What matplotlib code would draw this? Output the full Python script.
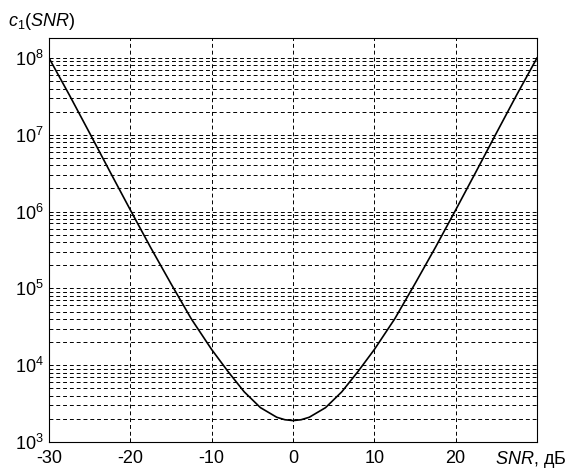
import numpy as np
import matplotlib
matplotlib.use('Agg')
import matplotlib.pyplot as plt
from matplotlib.ticker import LogLocator, NullFormatter

plt.rcParams['font.family'] = ['Liberation Sans', 'DejaVu Sans']
plt.rcParams['mathtext.fontset'] = 'custom'
plt.rcParams['mathtext.rm'] = 'Liberation Sans'
plt.rcParams['mathtext.it'] = 'Liberation Sans:italic'

# values
snr_db = [-30, -27.5, -25, -22.5, -20, -17.5, -15, -12.5, -10, -8, -6, -4, -2, -1, 0,
          1, 2, 4, 6, 8, 10, 12.5, 15, 17.5, 20, 22.5, 25, 27.5, 30]
c1 = [1.0e8, 3.3e7, 1.05e7, 3.3e6, 1.05e6, 3.4e5, 1.15e5, 4.0e4, 1.6e4, 8.3e3, 4.5e3, 2.8e3, 2.1e3, 1.95e3, 1.9e3,
      1.95e3, 2.1e3, 2.8e3, 4.5e3, 8.3e3, 1.6e4, 4.0e4, 1.15e5, 3.4e5, 1.05e6, 3.3e6, 1.05e7, 3.3e7, 1.0e8]
xticks = [-30, -20, -10, 0, 10, 20, 30]
xticklabels = ['-30', '-20', '-10', '0', '10', '20', '']

fig = plt.figure(figsize=(5.73, 4.70), dpi=100)
ax = fig.add_axes([49/573, 28/470, (537-49)/573, (442-38)/470])
ax.semilogy(snr_db, c1, color='k', lw=1.2)
ax.set_xlim(-30, 30)
ax.set_ylim(1e3, 10**8.26)
ax.set_xticks(xticks)
ax.set_xticklabels(xticklabels, fontsize=13)
ax.yaxis.set_major_locator(LogLocator(base=10, numticks=10))
ax.yaxis.set_minor_locator(LogLocator(base=10, subs=np.arange(2, 10), numticks=10))
ax.yaxis.set_minor_formatter(NullFormatter())
ax.tick_params(axis='y', which='major', labelsize=13, pad=4)
ax.tick_params(axis='x', pad=6)
ax.tick_params(which='both', direction='in', length=3, width=0.6, top=False, right=False)
ax.tick_params(axis='y', which='minor', length=0)
ax.grid(which='major', axis='both', color='k', ls=(0, (4, 3)), lw=0.7)
ax.grid(which='minor', axis='y', color='k', ls=(0, (4, 3)), lw=0.7)
for s in ax.spines.values():
    s.set_linewidth(0.8)

fig.text(8/573, 1 - 26/470, r'$\mathit{c}_\mathit{1}\mathit{(SNR)}$', fontsize=13, ha='left', va='baseline')
fig.text(566/573, 1 - 464/470, r'$\mathit{SNR}$, дБ', fontsize=13, ha='right', va='baseline')

plt.savefig('out.png', dpi=100)
